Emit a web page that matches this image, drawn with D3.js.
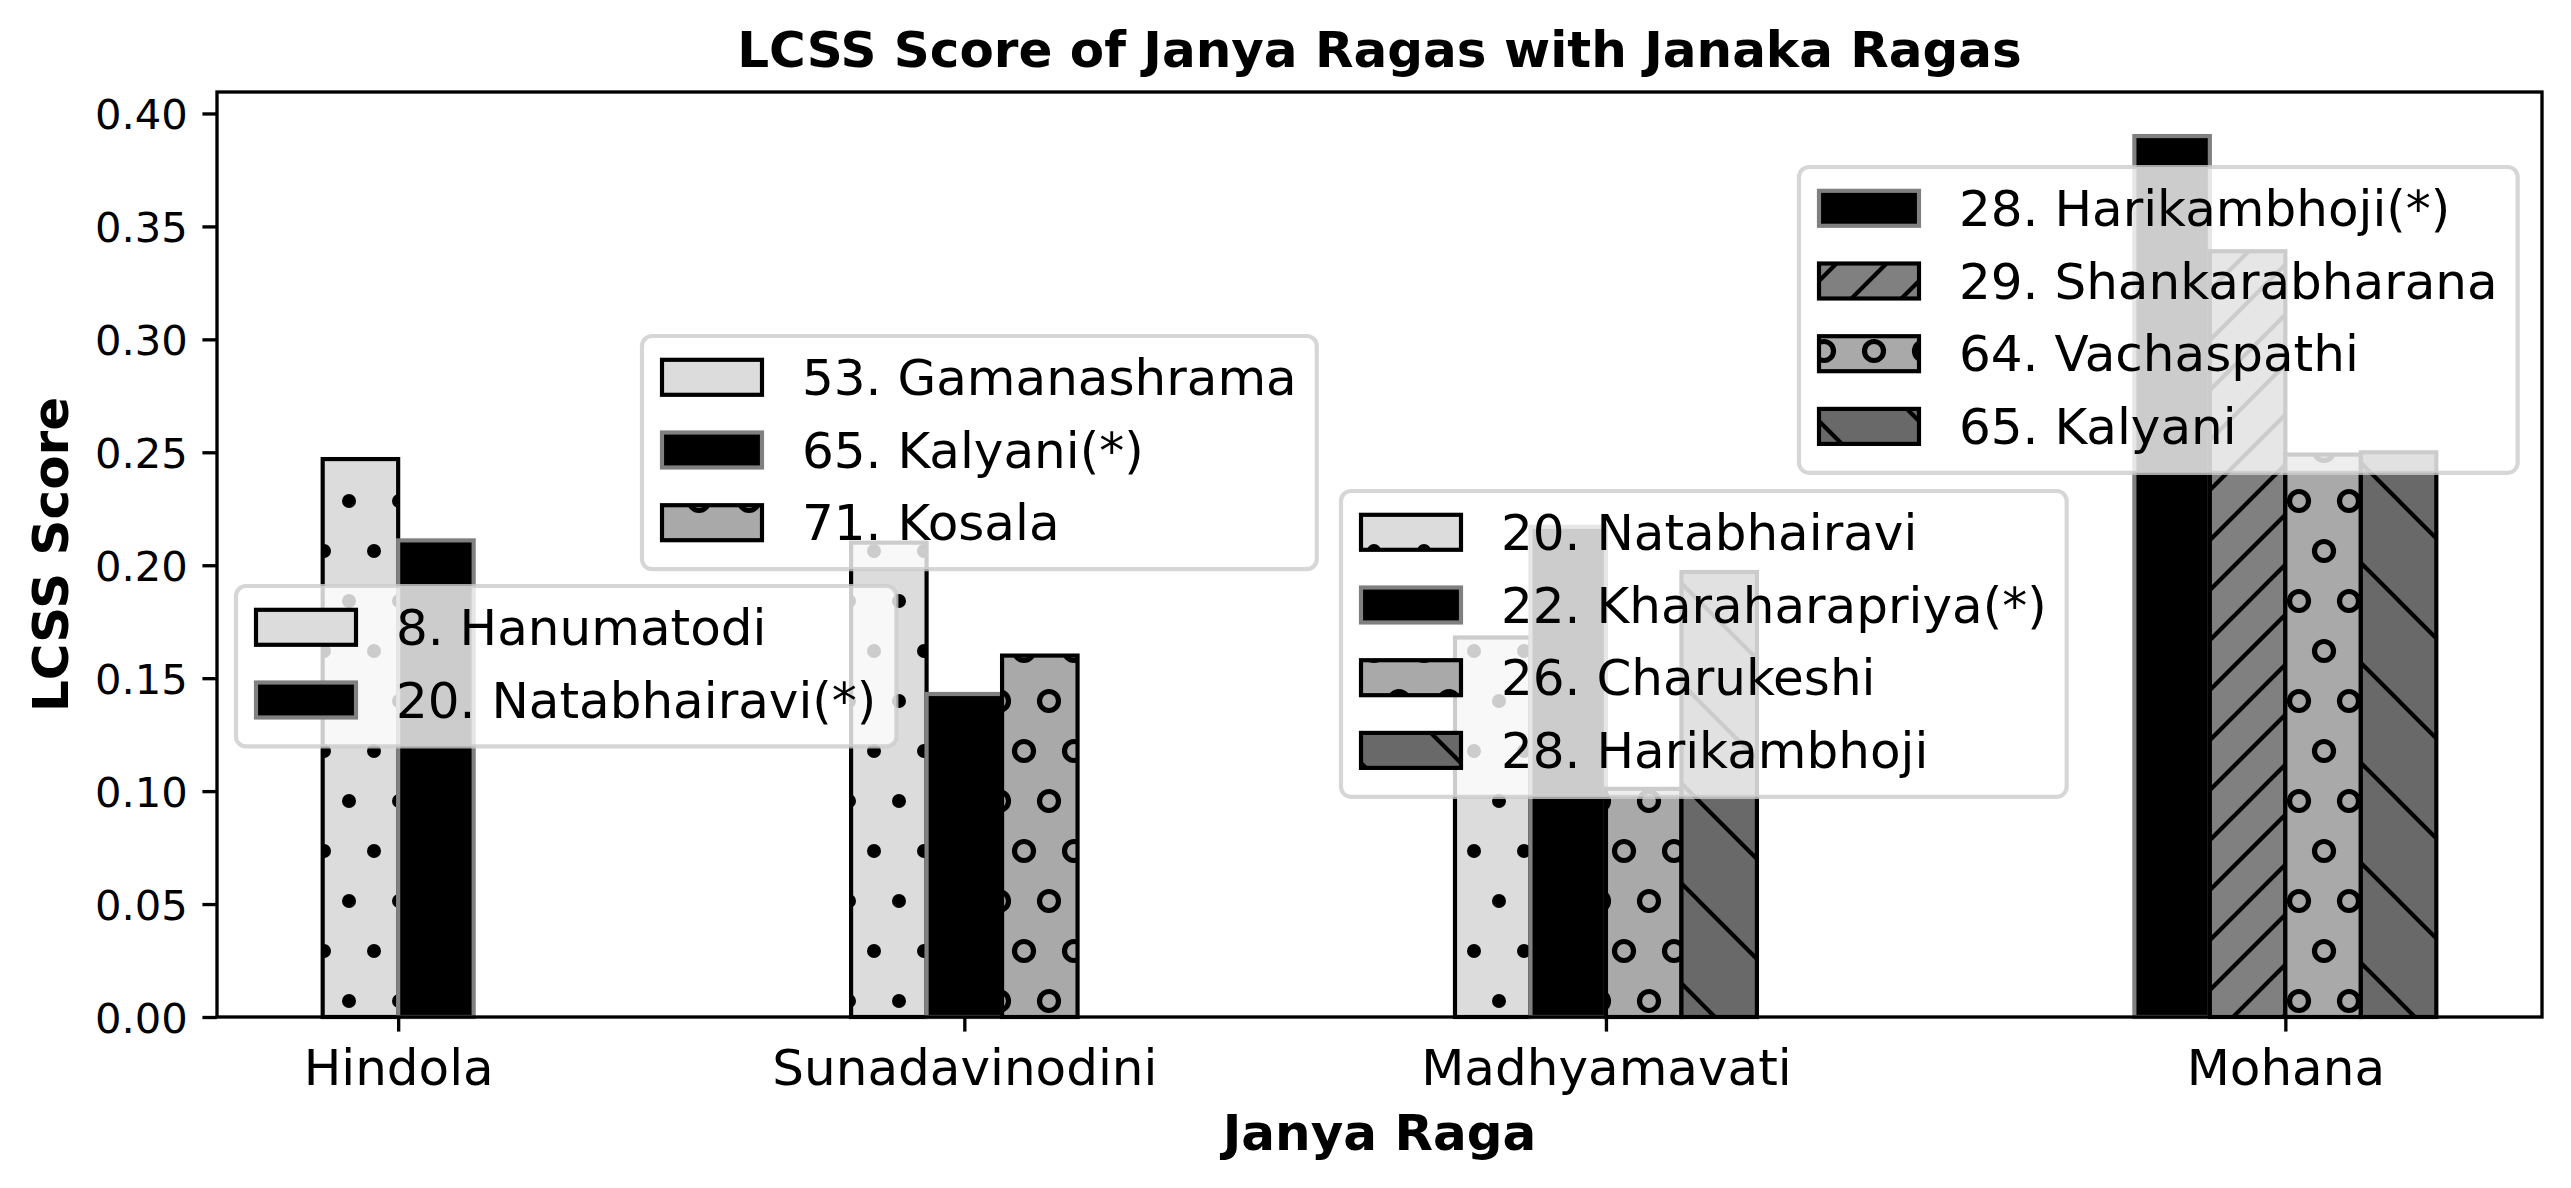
<!DOCTYPE html>
<html>
<head>
<meta charset="utf-8">
<script src="https://cdn.jsdelivr.net/npm/d3@7"></script>
<style>
  html, body { margin: 0; padding: 0; background: #ffffff; }
  svg { display: block; }
</style>
</head>
<body>
<svg id="chart" width="2571" height="1188"></svg>
<script>
// ---------------- DATA ----------------
const categories = ["Hindola", "Sunadavinodini", "Madhyamavati", "Mohana"];

const hindolaLabels = ["8. Hanumatodi", "20. Natabhairavi(*)"];
const hindolaScores = [0.247, 0.211];

const sunadavinodiniLabels = ["53. Gamanashrama", "65. Kalyani(*)", "71. Kosala"];
const sunadavinodiniScores = [0.210, 0.143, 0.160];

const madhyamavatiLabels = ["20. Natabhairavi", "22. Kharaharapriya(*)", "26. Charukeshi", "28. Harikambhoji"];
const madhyamavatiScores = [0.168, 0.217, 0.101, 0.197];

const mohanaLabels = ["28. Harikambhoji(*)", "29. Shankarabharana", "64. Vachaspathi", "65. Kalyani"];
const mohanaScores = [0.390, 0.339, 0.249, 0.250];

// index (within each group) of the Janaka raga marked with (*)
const janakaIndex = [1, 1, 1, 0];

const yTickValues = [0.00, 0.05, 0.10, 0.15, 0.20, 0.25, 0.30, 0.35, 0.40];

const titleText = "LCSS Score of Janya Ragas with Janaka Ragas";
const xAxisLabel = "Janya Raga";
const yAxisLabel = "LCSS Score";

// ---------------- STYLE / LAYOUT ----------------
const seriesFills = ["#dcdcdc", "#808080", "#a9a9a9", "#696969"];
const seriesHatch = ["hatch-dots", "hatch-ne", "hatch-rings", "hatch-se"];
const janakaFill = "#000000";
const janakaEdge = "#808080";
const PT = 300 / 72;                 // pixels per point
const EDGE_W = 1.0 * PT;
const HATCH_W = 1.0 * PT;
const SPINE_W = 0.8 * PT;
const TICK_LEN = 3.5 * PT;
const TICK_PAD = 3.5 * PT;
const FONT = "'DejaVu Sans', 'Liberation Sans', sans-serif";
const plot = { left: 217, right: 2542, top: 92, bottom: 1017 };
const GROUP_GAP = 5;                 // gap between groups in bar widths
const legendAnchors = [[236, 586], [642, 336], [1341, 491], [1799, 167]];

const groupLabels = [hindolaLabels, sunadavinodiniLabels, madhyamavatiLabels, mohanaLabels];
const groupScores = [hindolaScores, sunadavinodiniScores, madhyamavatiScores, mohanaScores];

// lay groups out in bar-width units
let cursor = 0;
const groups = categories.map((name, i) => {
  const n = groupScores[i].length;
  const g = { name, labels: groupLabels[i], scores: groupScores[i], janaka: janakaIndex[i],
              start: cursor, center: cursor + n / 2 };
  cursor += n + GROUP_GAP;
  return g;
});
const extent = cursor - GROUP_GAP;

const xs = d3.scaleLinear()
  .domain([-0.05 * extent, extent * 1.05])
  .range([plot.left, plot.right]);
const maxVal = d3.max(groupScores.flat());
const ys = d3.scaleLinear()
  .domain([0, maxVal * 1.05])
  .range([plot.bottom, plot.top]);

const svg = d3.select("#chart");
svg.append("rect").attr("width", 2571).attr("height", 1188).attr("fill", "#ffffff");

// ---------------- HATCH PATTERNS ----------------
const defs = svg.append("defs");
function pattern(id) {
  return defs.append("pattern").attr("id", id)
    .attr("patternUnits", "userSpaceOnUse")
    .attr("x", -1).attr("y", 1).attr("width", 100).attr("height", 100);
}
const circlePts = [[0,0],[50,0],[100,0],[0,100],[50,100],[100,100],[25,50],[75,50]];
const pDots = pattern("hatch-dots");
circlePts.forEach(([cx, cy]) => pDots.append("circle").attr("cx", cx).attr("cy", cy).attr("r", 7).attr("fill", "#000"));
const pRings = pattern("hatch-rings");
circlePts.forEach(([cx, cy]) => pRings.append("circle").attr("cx", cx).attr("cy", cy).attr("r", 9.5)
  .attr("fill", "none").attr("stroke", "#000").attr("stroke-width", 5.2));
const pNE = pattern("hatch-ne");
[0, 50, 100, 150, 200].forEach(c =>
  pNE.append("line").attr("x1", -10).attr("y1", c + 10).attr("x2", c + 10).attr("y2", -10)
    .attr("stroke", "#000").attr("stroke-width", HATCH_W));
const pSE = pattern("hatch-se");
[[-10,-10,110,110],[90,-10,110,10],[-10,90,10,110]].forEach(([a,b,c,d]) =>
  pSE.append("line").attr("x1", a).attr("y1", b).attr("x2", c).attr("y2", d)
    .attr("stroke", "#000").attr("stroke-width", HATCH_W));

function styleOf(g, j) {
  const isJ = j === g.janaka;
  return { fill: isJ ? janakaFill : seriesFills[j], hatch: isJ ? null : seriesHatch[j],
           edge: isJ ? janakaEdge : "#000000" };
}
function drawPatch(sel, x, y, w, h, st) {
  sel.append("rect").attr("x", x).attr("y", y).attr("width", w).attr("height", h).attr("fill", st.fill);
  if (st.hatch) sel.append("rect").attr("x", x).attr("y", y).attr("width", w).attr("height", h)
    .attr("fill", `url(#${st.hatch})`);
  sel.append("rect").attr("x", x).attr("y", y).attr("width", w).attr("height", h)
    .attr("fill", "none").attr("stroke", st.edge).attr("stroke-width", EDGE_W)
    .attr("stroke-linejoin", "miter");
}

// ---------------- BARS ----------------
const barsG = svg.append("g").attr("class", "bars");
groups.forEach(g => {
  g.scores.forEach((v, j) => {
    const x0 = xs(g.start + j), x1 = xs(g.start + j + 1);
    const y0 = ys(v), y1 = ys(0);
    drawPatch(barsG.append("g"), x0, y0, x1 - x0, y1 - y0, styleOf(g, j));
  });
});

// ---------------- AXES ----------------
const xAxis = d3.axisBottom(xs)
  .tickValues(groups.map(g => g.center))
  .tickFormat((d, i) => categories[i])
  .tickSize(TICK_LEN).tickPadding(TICK_PAD).tickSizeOuter(0);
const gx = svg.append("g").attr("transform", `translate(0,${plot.bottom})`).call(xAxis);
gx.select(".domain").remove();
gx.selectAll(".tick line").attr("stroke", "#000").attr("stroke-width", SPINE_W);
gx.selectAll(".tick text").attr("fill", "#000").attr("font-family", FONT)
  .attr("font-size", 50).attr("dy", "0.776em");

const yAxis = d3.axisLeft(ys)
  .tickValues(yTickValues)
  .tickFormat(d3.format(".2f"))
  .tickSize(TICK_LEN).tickPadding(TICK_PAD).tickSizeOuter(0);
const gy = svg.append("g").attr("transform", `translate(${plot.left},0)`).call(yAxis);
gy.select(".domain").remove();
gy.selectAll(".tick line").attr("stroke", "#000").attr("stroke-width", SPINE_W);
gy.selectAll(".tick text").attr("fill", "#000").attr("font-family", FONT)
  .attr("font-size", 41.67).attr("dy", "0.365em");

svg.append("rect")
  .attr("x", plot.left).attr("y", plot.top)
  .attr("width", plot.right - plot.left).attr("height", plot.bottom - plot.top)
  .attr("fill", "none").attr("stroke", "#000").attr("stroke-width", SPINE_W);

// ---------------- LEGENDS ----------------
const FS = 50, BORDER = 0.4 * FS, HANDLE_L = 2.0 * FS, HANDLE_H = 0.7 * FS, TEXT_PAD = 0.8 * FS;
const ROW_PITCH = 72.7, TEXT_H = 47.7, BASE_OFF = 38.8;
groups.forEach((g, gi) => {
  const [lx, ly] = legendAnchors[gi];
  const lg = svg.append("g").attr("class", "legend");
  const frame = lg.append("rect").attr("x", lx).attr("y", ly).attr("rx", 10).attr("ry", 10)
    .attr("fill", "#ffffff").attr("fill-opacity", 0.8)
    .attr("stroke", "#cccccc").attr("stroke-opacity", 0.8).attr("stroke-width", PT);
  let maxW = 0;
  g.labels.forEach((lab, j) => {
    const rowTop = ly + BORDER + j * ROW_PITCH;
    const base = rowTop + BASE_OFF;
    drawPatch(lg.append("g"), lx + BORDER, base - HANDLE_H, HANDLE_L, HANDLE_H, styleOf(g, j));
    const t = lg.append("text").attr("x", lx + BORDER + HANDLE_L + TEXT_PAD).attr("y", base)
      .attr("font-family", FONT).attr("font-size", FS).attr("fill", "#000").text(lab);
    maxW = Math.max(maxW, t.node().getComputedTextLength());
  });
  const n = g.labels.length;
  frame.attr("width", 2 * BORDER + HANDLE_L + TEXT_PAD + maxW)
       .attr("height", 2 * BORDER + n * TEXT_H + (n - 1) * (ROW_PITCH - TEXT_H));
});

// ---------------- TITLES ----------------
const cx = (plot.left + plot.right) / 2;
svg.append("text").attr("x", cx).attr("y", plot.top - 6 * PT)
  .attr("text-anchor", "middle").attr("font-family", FONT).attr("font-weight", "bold")
  .attr("font-size", 50).attr("fill", "#000").text(titleText);
svg.append("text").attr("x", cx).attr("y", 1150)
  .attr("text-anchor", "middle").attr("font-family", FONT).attr("font-weight", "bold")
  .attr("font-size", 50).attr("fill", "#000").text(xAxisLabel);
svg.append("text").attr("transform", `translate(68,${(plot.top + plot.bottom) / 2}) rotate(-90)`)
  .attr("text-anchor", "middle").attr("font-family", FONT).attr("font-weight", "bold")
  .attr("font-size", 50).attr("fill", "#000").text(yAxisLabel);
</script>
</body>
</html>
